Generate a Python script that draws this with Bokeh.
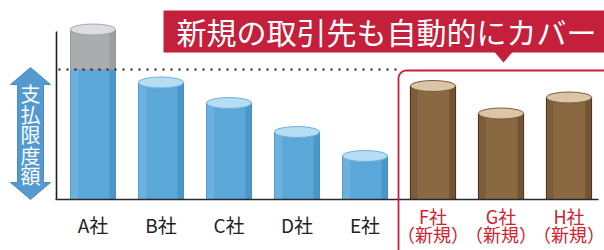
import numpy as np
from bokeh.plotting import figure
from bokeh.models import Range1d
from bokeh.core.properties import value
from bokeh.embed import file_html
from bokeh.resources import INLINE

# ---------------- data ----------------
companies = ["A社", "B社", "C社", "D社", "E社", "F社", "G社", "H社"]
is_new = [False, False, False, False, False, True, True, True]
limits = [170, 117, 96.5, 67.5, 43.5, 113.5, 86, 102]
limit_line = 130
new_tag = "（新規）"
title = "新規の取引先も自動的にカバー"
axis_label = "支払限度額"

# ---------------- layout helpers (reference pixel -> data) ----------------
W, H = 604, 250
X0, SX = 92.5, 68.0      # first category centre / category spacing in px
BASE = 199               # baseline in px


def dx(px):
    return (px - X0) / SX


def dy(py):
    return BASE - py


FONT = value("Noto Sans CJK JP")

p = figure(width=W, height=H, x_range=Range1d(dx(0), dx(W)),
           y_range=Range1d(dy(H), dy(0)), output_backend="svg",
           toolbar_location=None, min_border=0,
           x_axis_type=None, y_axis_type=None)
p.grid.visible = False
p.outline_line_color = None
p.background_fill_color = "white"
p.border_fill_color = "white"

xs = np.arange(len(companies), dtype=float)
bw = 45 / SX
old_idx = [i for i, n in enumerate(is_new) if not n]
new_idx = [i for i, n in enumerate(is_new) if n]

# ---------------- old companies: blue cylinders ----------------
ox = xs[old_idx]
ov = np.array([limits[i] for i in old_idx])
blue_top = np.minimum(ov, limit_line)
p.vbar(x=ox, top=blue_top, bottom=0, width=bw, fill_color="#5ba7d8",
       line_color="#4a95c9", line_width=1)
# shading strips
p.vbar(x=ox - bw / 2 + 4 / SX, top=blue_top, bottom=0, width=8 / SX,
       fill_color="#7dbce3", fill_alpha=0.5, line_color=None)
p.vbar(x=ox + bw / 2 - 3 / SX, top=blue_top, bottom=0, width=6 / SX,
       fill_color="#3b86bd", fill_alpha=0.5, line_color=None)
over = ov > limit_line
if over.any():
    gx = ox[over]
    gv = ov[over]
    p.vbar(x=gx, top=gv, bottom=limit_line, width=bw, fill_color="#abacb0",
           line_color="#9c9da1", line_width=1)
    p.vbar(x=gx + bw / 2 - 3 / SX, top=gv, bottom=limit_line, width=6 / SX,
           fill_color="#8d8e92", fill_alpha=0.5, line_color=None)
top_cols = ["#dcdde0" if o else "#b6ddf3" for o in over]
edge_cols = ["#a5a6aa" if o else "#6eb1dc" for o in over]
p.ellipse(x=ox, y=ov, width=bw, height=11, fill_color=top_cols,
          line_color=edge_cols, line_width=1)

# ---------------- new companies: brown cylinders ----------------
nx = xs[new_idx]
nv = np.array([limits[i] for i in new_idx])
p.vbar(x=nx, top=nv, bottom=0, width=bw, fill_color="#8a6842",
       line_color="#4a3320", line_width=1.2)
p.vbar(x=nx + bw / 2 - 3.5 / SX, top=nv, bottom=0, width=5 / SX,
       fill_color="#5e4229", fill_alpha=0.55, line_color=None)
p.vbar(x=nx - bw / 2 + 4 / SX, top=nv, bottom=0, width=6 / SX,
       fill_color="#6e5032", fill_alpha=0.5, line_color=None)
p.ellipse(x=nx, y=nv, width=bw, height=11, fill_color="#dac6a6",
          line_color="#7b5b3a", line_width=1)

# ---------------- axes lines & limit line ----------------
p.line([dx(56), dx(56)], [0, dy(31)], line_color="#1e1e1e", line_width=1.6)
p.line([dx(55), dx(598)], [0, 0], line_color="#2a2a2a", line_width=1.6)
p.line([dx(58), dx(396)], [limit_line, limit_line], line_color="#1a1a1a",
       line_width=2.2, line_dash="2 6")

# ---------------- red frame for new companies ----------------
r = 8
ang = np.linspace(np.pi, np.pi / 2, 10)
fx = [398] + list(398 + r + r * np.cos(ang)) + [620]
fy = [260] + list(70 + r - r * np.sin(ang)) + [70]
p.line([dx(v) for v in fx], [dy(v) for v in fy], line_color="#c8203a",
       line_width=1.8)

# ---------------- banner ----------------
p.quad(left=dx(163), right=dx(620), top=dy(10), bottom=dy(52),
       fill_color="#c41f3b", line_color=None)
p.patch([dx(494), dx(512), dx(503)], [dy(51.5), dy(51.5), dy(62)],
        fill_color="#c41f3b", line_color=None)
p.text(x=[dx(386)], y=[dy(30)], text=[title], text_font=FONT,
       text_font_size="30px", text_color="white", text_align="center",
       text_baseline="middle")

# ---------------- left double arrow with label ----------------
ax = [30, 50, 43, 43, 50, 30, 10, 17, 17, 10]
ay = [67, 84, 84, 182, 182, 199, 182, 182, 84, 84]
p.patch([dx(v) for v in ax], [dy(v) for v in ay], fill_color="#5499cf",
        line_color="#4a8ec4", line_width=1)
chars = list(axis_label)
cy = [dy(93 + 20.5 * i) for i in range(len(chars))]
p.text(x=[dx(30)] * len(chars), y=cy, text=chars, text_font=FONT,
       text_font_size="20px", text_color="white", text_align="center",
       text_baseline="middle")

# ---------------- category labels ----------------
p.text(x=ox, y=[dy(224)] * len(ox), text=[companies[i] for i in old_idx],
       text_font=FONT, text_font_size="19px", text_color="#222222",
       text_align="center", text_baseline="middle")
p.text(x=nx, y=[dy(215)] * len(nx), text=[companies[i] for i in new_idx],
       text_font=FONT, text_font_size="18px", text_color="#d0222f",
       text_align="center", text_baseline="middle")
p.text(x=nx, y=[dy(233.5)] * len(nx), text=[new_tag] * len(nx),
       text_font=FONT, text_font_size="18px", text_color="#d0222f",
       text_align="center", text_baseline="middle")

open("out.html", "w").write(file_html(p, INLINE))
